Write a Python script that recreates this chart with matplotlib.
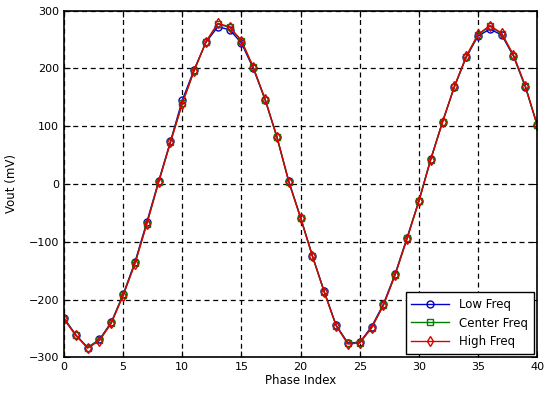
import matplotlib
matplotlib.use("Agg")
import matplotlib.pyplot as plt
import numpy as np

phase_index = list(range(41))

high_freq = [-234, -262, -284, -271, -241, -193, -138, -69, 3, 72,
             139, 196, 246, 278, 272, 248, 202, 147, 82, 4,
             -59, -125, -187, -245, -277, -275, -249, -210, -157, -95,
             -30, 42, 107, 169, 221, 259, 274, 261, 223, 170, 102]
center_freq = [-233, -262, -283, -270, -240, -192, -137, -69, 3, 72,
               140, 196, 246, 277, 271, 248, 202, 146, 81, 4,
               -58, -125, -187, -245, -276, -275, -249, -210, -157, -94,
               -30, 42, 107, 168, 220, 258, 273, 260, 222, 169, 102]
low_freq = [-232, -261, -283, -269, -239, -191, -135, -66, 5, 74,
            145, 198, 245, 272, 267, 244, 200, 146, 81, 5,
            -58, -124, -186, -244, -275, -274, -247, -208, -155, -93,
            -29, 43, 108, 168, 219, 256, 268, 258, 221, 168, 102]

x_ticks = [0, 5, 10, 15, 20, 25, 30, 35, 40]
y_ticks = [-300, -200, -100, 0, 100, 200, 300]

plt.rcParams['font.family'] = ['DejaVu Sans']
fig = plt.figure(figsize=(5.47, 3.94), dpi=100)
ax = fig.add_axes([0.117, 0.093, 0.865, 0.880])

ax.plot(phase_index, low_freq, color='#0000cc', marker='o', markersize=5,
        markerfacecolor='none', linewidth=1, label='Low Freq')
ax.plot(phase_index, center_freq, color='#008000', marker='s', markersize=5,
        markerfacecolor='none', linewidth=1, label='Center Freq')
ax.plot(phase_index, high_freq, color='#dd0000', marker='d', markersize=5,
        markerfacecolor='none', linewidth=1, label='High Freq')

ax.set_xlim(0, 40)
ax.set_ylim(-300, 300)
ax.set_xticks(x_ticks)
ax.set_yticks(y_ticks)
ax.tick_params(labelsize=8, direction='in', length=4, top=True, right=True)
ax.grid(True, color='black', linestyle=(0, (4, 3)), linewidth=0.9)
for s in ax.spines.values():
    s.set_linewidth(1.2)

ax.set_xlabel('Phase Index', fontsize=8.5, labelpad=1)
ax.set_ylabel('Vout (mV)', fontsize=8.5, labelpad=8)

leg = ax.legend(loc='lower right', fontsize=8.5, fancybox=False, framealpha=1,
                edgecolor='black', borderpad=0.5, labelspacing=0.45,
                handlelength=3.2, borderaxespad=0.3)
leg.get_frame().set_linewidth(1)

fig.savefig('out.png', dpi=100)
